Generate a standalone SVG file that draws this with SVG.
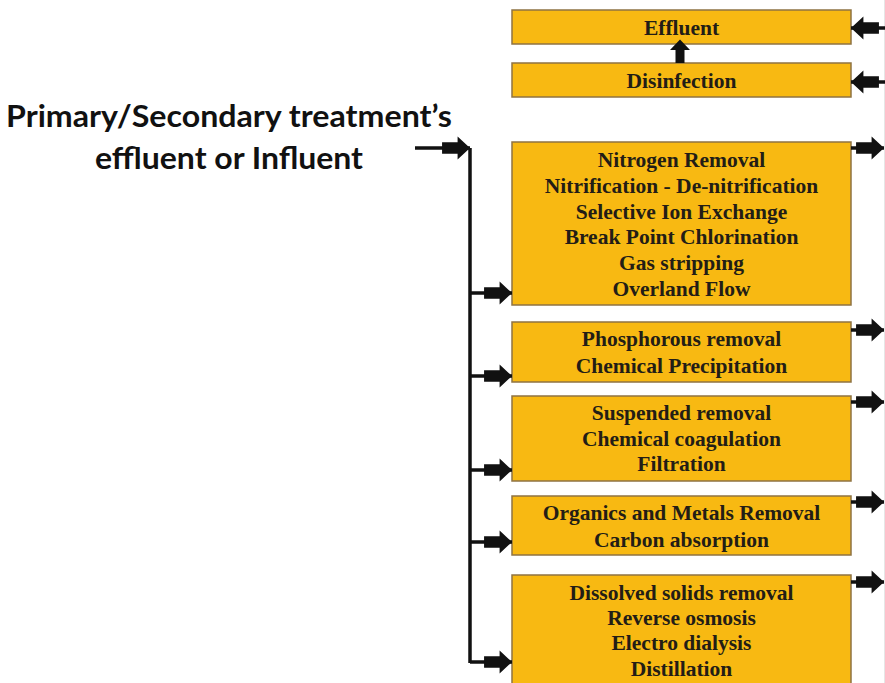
<svg xmlns="http://www.w3.org/2000/svg" width="885" height="683" viewBox="0 0 885 683">
<style>
.box{fill:#f8b912;stroke:#8f7343;stroke-width:1.5}
.t{font-family:"Liberation Serif","Times New Roman",serif;font-weight:bold;font-size:21.5px;fill:#231d16;text-anchor:middle}
.h{font-family:Lato,"Liberation Sans",Arial,sans-serif;font-weight:bold;font-size:29.5px;fill:#111;text-anchor:middle}
.ln{stroke:#111;stroke-width:3.5;fill:none}
</style>
<defs>
<marker id="ah" markerUnits="userSpaceOnUse" markerWidth="30" markerHeight="26" viewBox="-28 -12 29 24" refX="0" refY="0" orient="auto">
<path d="M-27,-5.5 L-12,-5.5 L-12,-11 L0,0 L-12,11 L-12,5.5 L-27,5.5 Z" fill="#111"/>
</marker>
</defs>
<text class="h" x="229" y="127" textLength="446" lengthAdjust="spacingAndGlyphs">Primary/Secondary treatment’s</text>
<text class="h" x="229" y="169" textLength="268" lengthAdjust="spacingAndGlyphs">effluent or Influent</text>
<g id="effluent"><rect class="box" x="512" y="10" width="339" height="34"/><text class="t" x="681.5" y="35">Effluent</text></g>
<g id="disinfection"><rect class="box" x="512" y="63" width="339" height="34"/><text class="t" x="681.5" y="88">Disinfection</text></g>
<g id="nitrogen"><rect class="box" x="512" y="142" width="339" height="163"/>
<text class="t" x="681.5" y="167">Nitrogen Removal</text>
<text class="t" x="681.5" y="193">Nitrification - De-nitrification</text>
<text class="t" x="681.5" y="219">Selective Ion Exchange</text>
<text class="t" x="681.5" y="244">Break Point Chlorination</text>
<text class="t" x="681.5" y="270">Gas stripping</text>
<text class="t" x="681.5" y="296">Overland Flow</text></g>
<g id="phosphorous"><rect class="box" x="512" y="322" width="339" height="60"/>
<text class="t" x="681.5" y="346">Phosphorous removal</text>
<text class="t" x="681.5" y="373">Chemical Precipitation</text></g>
<g id="suspended"><rect class="box" x="512" y="396" width="339" height="85"/>
<text class="t" x="681.5" y="420">Suspended removal</text>
<text class="t" x="681.5" y="446">Chemical coagulation</text>
<text class="t" x="681.5" y="471">Filtration</text></g>
<g id="organics"><rect class="box" x="512" y="496" width="339" height="59"/>
<text class="t" x="681.5" y="520">Organics and Metals Removal</text>
<text class="t" x="681.5" y="547">Carbon absorption</text></g>
<g id="dissolved"><rect class="box" x="512" y="575" width="339" height="120"/>
<text class="t" x="681.5" y="600">Dissolved solids removal</text>
<text class="t" x="681.5" y="625">Reverse osmosis</text>
<text class="t" x="681.5" y="650">Electro dialysis</text>
<text class="t" x="681.5" y="676">Distillation</text></g>
<g id="connectors">
<line x1="884.5" y1="0" x2="884.5" y2="683" stroke="#e6e6e6" stroke-width="1"/>
<path class="ln" d="M415,148 H470" marker-end="url(#ah)"/>
<path class="ln" d="M470,148 V663"/>
<path class="ln" d="M470,293 H512" marker-end="url(#ah)"/>
<path class="ln" d="M470,376 H512" marker-end="url(#ah)"/>
<path class="ln" d="M470,470 H512" marker-end="url(#ah)"/>
<path class="ln" d="M470,542 H512" marker-end="url(#ah)"/>
<path class="ln" d="M470,662 H512" marker-end="url(#ah)"/>
<path class="ln" d="M851,148 H884" marker-end="url(#ah)"/>
<path class="ln" d="M851,330 H884" marker-end="url(#ah)"/>
<path class="ln" d="M851,402 H884" marker-end="url(#ah)"/>
<path class="ln" d="M851,502 H884" marker-end="url(#ah)"/>
<path class="ln" d="M851,582 H884" marker-end="url(#ah)"/>
<path class="ln" d="M885,28 H851" marker-end="url(#ah)"/>
<path class="ln" d="M885,82 H851" marker-end="url(#ah)"/>
<path d="M675.5,63 V50 H670 L680,39.5 L690,50 H684.5 V63 Z" fill="#111"/>
</g>
</svg>
